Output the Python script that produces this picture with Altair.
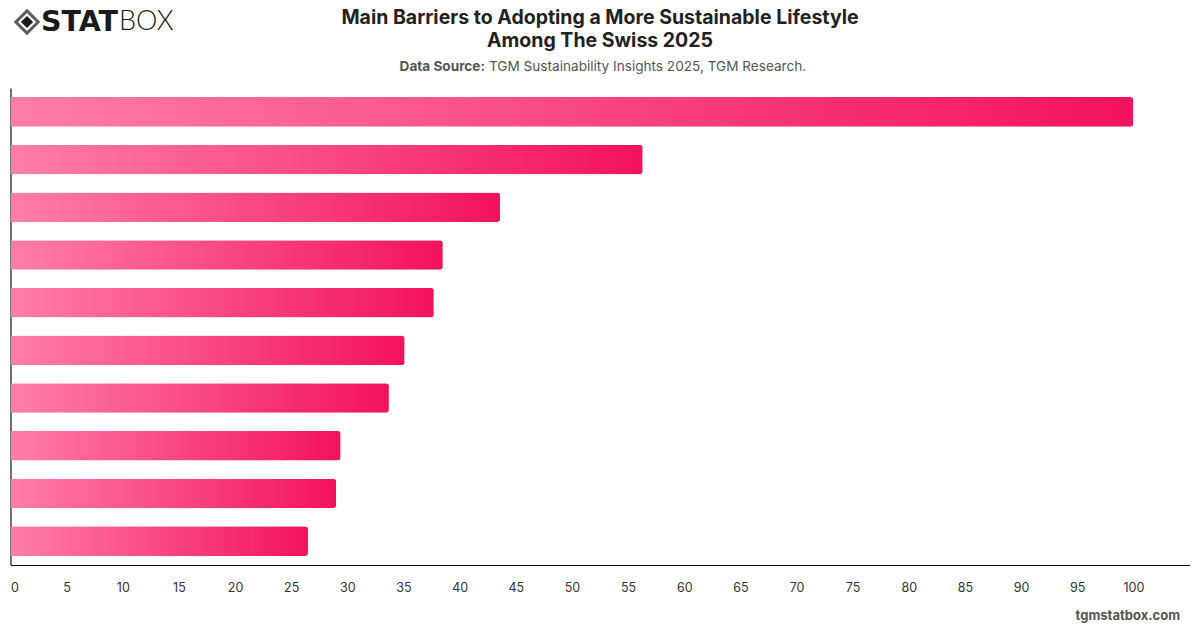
import altair as alt
import pandas as pd

categories = [f"Barrier {i}" for i in range(1, 11)]
values = [100.0, 56.3, 43.6, 38.5, 37.7, 35.1, 33.7, 29.4, 29.0, 26.5]
tick_values = list(range(0, 101, 5))

title_lines = ["Main Barriers to Adopting a More Sustainable Lifestyle", "Among The Swiss 2025"]
source_bold = "Data Source:"
source_text = "TGM Sustainability Insights 2025, TGM Research."
footer = "tgmstatbox.com"

FONT = "Inter"
W, H = 1179, 477
LEFT, TOP = 10.5, 88

df = pd.DataFrame({"cat": categories, "val": values})

grad = alt.Gradient(
    gradient="linear",
    stops=[alt.GradientStop(color="#FF7EA9", offset=0), alt.GradientStop(color="#F2125E", offset=1)],
    x1=0, x2=1, y1=0, y2=0,
)

bars = alt.Chart(df).mark_bar(color=grad, cornerRadiusEnd=3).encode(
    x=alt.X("val:Q", scale=alt.Scale(domain=[0, 105], nice=False, zero=True),
            axis=alt.Axis(values=tick_values, title=None, grid=False, ticks=False,
                          domainColor="#111", domainWidth=1.2, labelFont=FONT, labelFontSize=12.5,
                          labelColor="#333", labelPadding=16, labelFlush=True)),
    y=alt.Y("cat:N", sort=None, scale=alt.Scale(paddingInner=0.38, paddingOuter=0.19),
            axis=alt.Axis(title=None, labels=False, ticks=False, grid=False,
                          domainColor="#111", domainWidth=1.2)),
)

def txt(text, x, y, size, weight="normal", color="#222", align="center", font=FONT):
    return alt.Chart(pd.DataFrame({"t": [text]})).mark_text(
        font=font, fontSize=size, fontWeight=weight, color=color, align=align, baseline="middle"
    ).encode(text="t:N", x=alt.value(x - LEFT), y=alt.value(y - TOP))

cx = 600
layers = [bars,
          txt(title_lines[0], cx, 18, 19.5, "bold"),
          txt(title_lines[1], cx, 41, 19.5, "bold"),
          txt(source_bold, 485, 67, 13.6, "bold", "#555", "right"),
          txt(source_text, 489, 67, 13.6, "normal", "#555", "left"),
          txt(footer, 1180, 616, 13, "bold", "#555", "right"),
          txt("STAT", 41, 22, 28.5, "bold", "#1a1a1a", "left", "DejaVu Sans"),
          txt("BOX", 119, 22, 27, 300, "#1a1a1a", "left", "Lato"),
          ]

logo_outer = alt.Chart(pd.DataFrame({"a": [1]})).mark_point(
    shape="diamond", filled=False, stroke="#1a1a1a", strokeWidth=3, size=500
).encode(x=alt.value(27 - LEFT), y=alt.value(22 - TOP))
logo_inner = alt.Chart(pd.DataFrame({"a": [1]})).mark_point(
    shape="diamond", filled=True, fill="#1a1a1a", size=150, opacity=1
).encode(x=alt.value(27 - LEFT), y=alt.value(22 - TOP))

chart = alt.layer(*layers, logo_outer, logo_inner).properties(
    width=W, height=H,
    autosize=alt.AutoSizeParams(type="none"),
    padding={"left": LEFT, "top": TOP, "right": 1200 - LEFT - W, "bottom": 628 - TOP - H},
    background="white",
).configure_view(stroke=None)

chart.save("out.html", embed_options={"renderer": "svg", "actions": False})
